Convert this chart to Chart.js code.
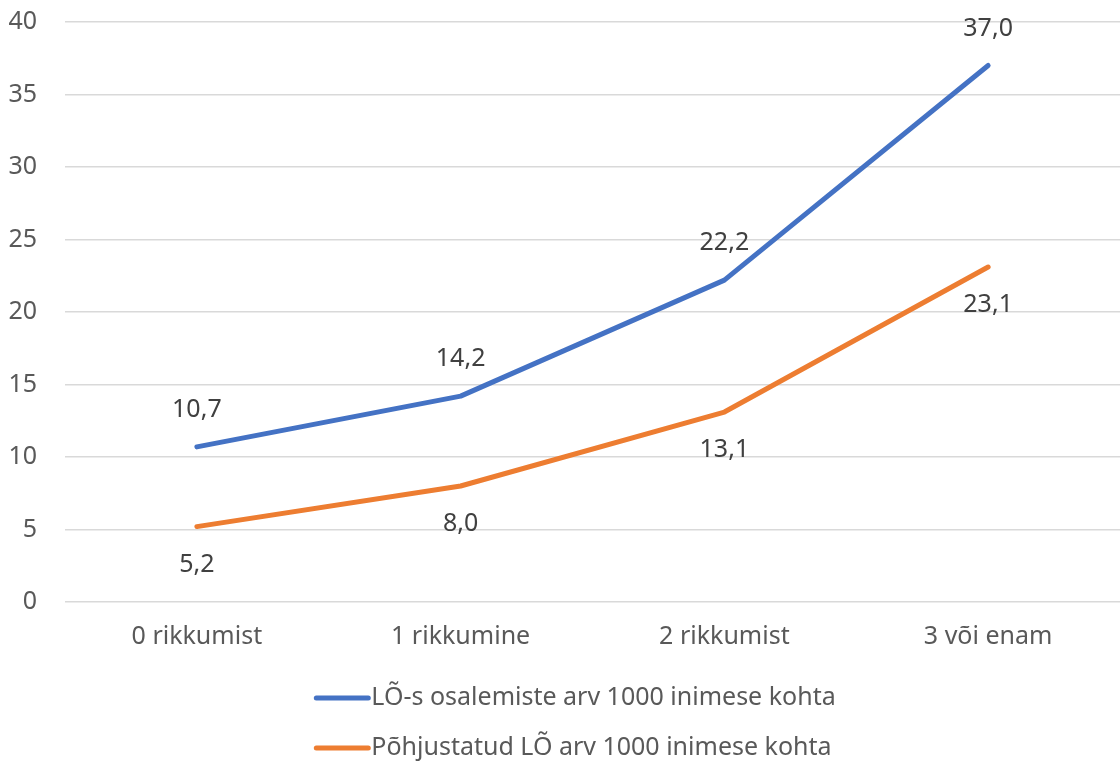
<!DOCTYPE html>
<html>
<head>
<meta charset="utf-8">
<script src="https://cdn.jsdelivr.net/npm/chart.js@4"></script>
<style>
  html, body { margin: 0; padding: 0; background: #fff; }
  #wrap { width: 1120px; height: 767px; }
</style>
</head>
<body>
<div id="wrap"><canvas id="lineChart"></canvas></div>
<script>
const categories = ['0 rikkumist', '1 rikkumine', '2 rikkumist', '3 või enam'];
const participations = [10.7, 14.2, 22.2, 37.0];
const caused = [5.2, 8.0, 13.1, 23.1];
const seriesNames = ['LÕ-s osalemiste arv 1000 inimese kohta', 'Põhjustatud LÕ arv 1000 inimese kohta'];
const seriesColors = ['#4472c4', '#ed7d31'];
const labelSide = ['above', 'below'];

const FONT = '"Noto Sans", "Open Sans", sans-serif';
const FSIZE = 25;

// value labels with comma decimals, placed above or below each point
const valueLabels = {
  id: 'valueLabels',
  afterDatasetsDraw(chart) {
    const ctx = chart.ctx;
    ctx.save();
    ctx.font = FSIZE + 'px ' + FONT;
    ctx.fillStyle = '#404040';
    ctx.textAlign = 'center';
    ctx.textBaseline = 'middle';
    chart.data.datasets.forEach((ds, i) => {
      const meta = chart.getDatasetMeta(i);
      meta.data.forEach((pt, j) => {
        const txt = ds.data[j].toFixed(1).replace('.', ',');
        const dy = labelSide[i] === 'above' ? -37 : 38;
        ctx.fillText(txt, pt.x, pt.y + dy);
      });
    });
    ctx.restore();
  }
};

// legend stacked in two rows under the axis
const stackedLegend = {
  id: 'stackedLegend',
  afterDraw(chart) {
    const ctx = chart.ctx;
    ctx.save();
    ctx.font = FSIZE + 'px ' + FONT;
    ctx.textBaseline = 'middle';
    const lineLen = 52;
    const widths = seriesNames.map(n => ctx.measureText(n).width);
    const total = lineLen + 3 + Math.max(...widths);
    const x0 = 576 - total / 2;
    const rows = [698, 748];
    seriesNames.forEach((name, i) => {
      ctx.strokeStyle = seriesColors[i];
      ctx.lineWidth = 5;
      ctx.lineCap = 'round';
      ctx.beginPath();
      ctx.moveTo(x0, rows[i]);
      ctx.lineTo(x0 + lineLen, rows[i]);
      ctx.stroke();
      ctx.fillStyle = '#595959';
      ctx.fillText(name, x0 + lineLen + 3, rows[i]);
    });
    ctx.restore();
  }
};

new Chart(document.getElementById('lineChart'), {
  type: 'line',
  data: {
    labels: categories,
    datasets: [participations, caused].map((d, i) => ({
      label: seriesNames[i],
      data: d,
      borderColor: seriesColors[i],
      backgroundColor: seriesColors[i],
      borderWidth: 5,
      borderCapStyle: 'round',
      borderJoinStyle: 'round',
      pointRadius: 0,
      fill: false,
      tension: 0
    }))
  },
  options: {
    responsive: true,
    maintainAspectRatio: false,
    animation: false,
    layout: { padding: { top: 22, right: 0, left: 0, bottom: 0 } },
    plugins: {
      legend: { display: false },
      tooltip: { enabled: false }
    },
    scales: {
      x: {
        offset: true,
        grid: { display: false, drawTicks: false },
        border: { display: false },
        ticks: { color: '#595959', font: { family: FONT, size: FSIZE }, padding: 20 },
        afterFit: (s) => { s.height = 165; }
      },
      y: {
        min: 0,
        max: 40,
        grid: { color: '#d9d9d9', lineWidth: 1.5, drawTicks: false },
        border: { display: false },
        ticks: { stepSize: 5, color: '#595959', font: { family: FONT, size: FSIZE }, padding: 28 },
        afterFit: (s) => { s.width = 65; s.paddingTop = 0; s.paddingBottom = 0; }
      }
    }
  },
  plugins: [valueLabels, stackedLegend]
});
</script>
</body>
</html>
